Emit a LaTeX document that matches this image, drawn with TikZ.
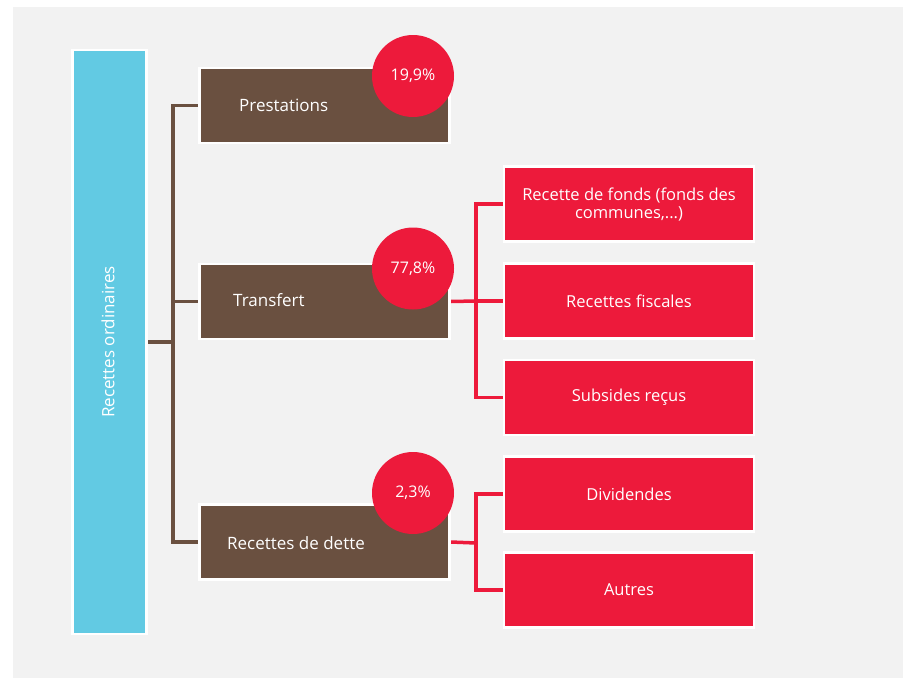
\documentclass[tikz,border=0pt]{standalone}
\usepackage{fontspec}
\setmainfont{Open Sans}
\definecolor{bgray}{HTML}{F2F2F2}
\definecolor{brn}{HTML}{6A5040}
\definecolor{rd}{HTML}{ED1A3B}
\definecolor{blu}{HTML}{62CAE3}
\begin{document}
\begin{tikzpicture}[x=1pt,y=-1pt,
  txt/.style={text=white,font=\fontsize{16}{19}\selectfont,inner sep=0pt},
  bigtxt/.style={text=white,font=\fontsize{17}{20}\selectfont,inner sep=0pt},
  bluebox/.style={fill=blu,draw=white,line width=2.5pt,minimum width=74pt,minimum height=584pt,inner sep=0pt},
  brownbox/.style={fill=brn,draw=white,line width=2.5pt,minimum width=250pt,minimum height=75pt,inner sep=0pt},
  redbox/.style={fill=rd,draw=white,line width=2.5pt,minimum width=250pt,minimum height=75pt,inner sep=0pt,text=white,font=\fontsize{16.5}{19}\selectfont,align=center},
  pct/.style={circle,fill=rd,minimum size=82pt,inner sep=0pt,txt},
  brownline/.style={draw=brn,line width=3.5pt},
  redline/.style={draw=rd,line width=3.5pt}]
\useasboundingbox (0,0) rectangle (903,678);
\fill[white] (0,0) rectangle (903,678);
\fill[bgray] (13,7) rectangle (903,678);

% boxes
\node[bluebox] (blue) at (109.5,342) {};
\node[bigtxt,rotate=90] (blueT) at (108,342) {Recettes ordinaires};

\node[brownbox] (prest) at (324.5,105.5) {};
\node[brownbox] (trans) at (324.5,301.5) {};
\node[brownbox] (dette) at (324.5,542) {};

\node[redbox] (fonds) at (629,204) {Recette de fonds (fonds des\\[-1pt]communes,...)};
\node[redbox] (fisc) at (629,301) {Recettes fiscales};
\node[redbox] (subs) at (629,397.5) {Subsides reçus};
\node[redbox] (divi) at (629,494) {Dividendes};
\node[redbox] (autr) at (629,590) {Autres};

% connectors
\coordinate (bj) at (173,342);
\coordinate (tj) at (476,301);
\coordinate (dj) at (476,543);
\draw[brownline] (blue.east) -- (bj);
\draw[brownline] (prest.west) -| (bj) |- (dette.west);
\draw[brownline] (bj |- trans.west) -- (trans.west);
\draw[redline] (trans.east) -- (tj);
\draw[redline] (fonds.west) -| (tj) |- (subs.west);
\draw[redline] (tj) -- (fisc.west);
\draw[redline] (dette.east) -- (dj);
\draw[redline] (divi.west) -| (dj) |- (autr.west);

% redraw boxes over connector ends
\node[brownbox] at (prest) {};
\node[brownbox] at (trans) {};
\node[brownbox] at (dette) {};
\node[bluebox] at (blue) {};
\node[bigtxt,rotate=90] at (108,342) {Recettes ordinaires};
\node[redbox] at (fonds) {Recette de fonds (fonds des\\[-1pt]communes,...)};
\node[redbox] at (fisc) {Recettes fiscales};
\node[redbox] at (subs) {Subsides reçus};
\node[redbox] at (divi) {Dividendes};
\node[redbox] at (autr) {Autres};

\node[bigtxt,anchor=west] (prestT) at (239,105) {Prestations};
\node[bigtxt,anchor=west] (transT) at (233,300) {Transfert};
\node[bigtxt,anchor=west] (detteT) at (227,543) {Recettes de dette};

\node[pct] (c1) at (413,76) {19,9\%};
\node[pct] (c2) at (413,268.5) {77,8\%};
\node[pct] (c3) at (413,493) {2,3\%};
\end{tikzpicture}
\end{document}
